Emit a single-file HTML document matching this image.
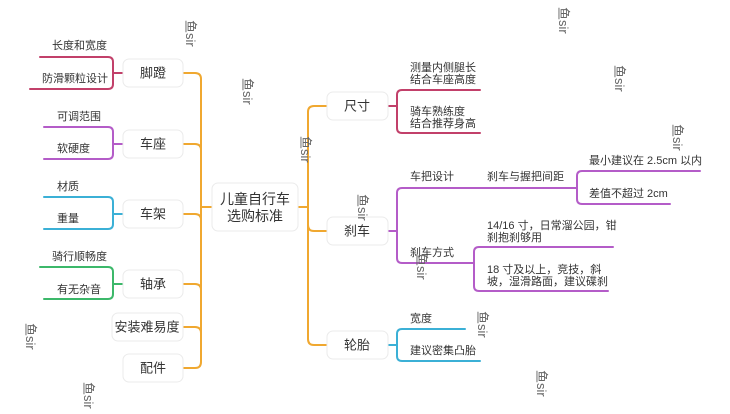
<!DOCTYPE html>
<html><head><meta charset="utf-8"><style>
html,body{margin:0;padding:0;background:#fff;}
svg{display:block;}
text{font-family:"Liberation Sans","Noto Sans CJK SC",sans-serif;fill:#333;}
.n{font-size:13px;text-anchor:middle;dominant-baseline:central;}
.l{font-size:11px;}
.w{font-size:13px;fill:#666;}
</style></head><body>
<svg width="730" height="414" viewBox="0 0 730 414" xmlns="http://www.w3.org/2000/svg">
<g fill="none" stroke-width="2" stroke-linecap="round">
<g stroke="#f0a830">
<path d="M183 73 H195 Q201 73 201 79 V362 Q201 368 195 368 H183"/>
<path d="M183 144 H195 Q201 144 201 150"/>
<path d="M183 214 H195 Q201 214 201 220"/>
<path d="M183 284 H195 Q201 284 201 290"/>
<path d="M183 327 H195 Q201 327 201 333"/>
<path d="M201 207 H212"/>
<path d="M298 207 H308"/>
<path d="M327 106 H314 Q308 106 308 112 V339 Q308 345 314 345 H327"/>
<path d="M327 231 H314 Q308 231 308 225"/>
</g>
<g stroke="#c2406a">
<path d="M123 73 H113"/>
<path d="M40 57 H108 Q113 57 113 62 V84 Q113 89 108 89 H30"/>
<path d="M388 106 H397"/>
<path d="M480 90 H402 Q397 90 397 95 V128 Q397 133 402 133 H480"/>
</g>
<g stroke="#b45cc8">
<path d="M123 144 H113"/>
<path d="M44 127 H108 Q113 127 113 132 V154 Q113 159 108 159 H44"/>
<path d="M388 231 H397"/>
<path d="M577 188 H402 Q397 188 397 193 V258 Q397 263 402 263 H474"/>
<path d="M700 171 H582 Q577 171 577 176 V199 Q577 204 582 204 H670"/>
<path d="M613 247 H479 Q474 247 474 252 V286 Q474 291 479 291 H608"/>
</g>
<g stroke="#3bb0d6">
<path d="M123 214 H113"/>
<path d="M44 197 H108 Q113 197 113 202 V224 Q113 229 108 229 H44"/>
<path d="M388 345 H397"/>
<path d="M465 329 H402 Q397 329 397 334 V356 Q397 361 402 361 H480"/>
</g>
<g stroke="#3cb86a">
<path d="M123 284 H113"/>
<path d="M40 267 H108 Q113 267 113 272 V294 Q113 299 108 299 H44"/>
</g>
</g>
<g fill="#fff" stroke="#ebebeb" stroke-width="1">
<rect x="123" y="59" width="60" height="28" rx="6"/>
<rect x="123" y="130" width="60" height="28" rx="6"/>
<rect x="123" y="200" width="60" height="28" rx="6"/>
<rect x="123" y="270" width="60" height="28" rx="6"/>
<rect x="112" y="313" width="71" height="28" rx="6"/>
<rect x="123" y="354" width="60" height="28" rx="6"/>
<rect x="212" y="183" width="86" height="48" rx="6"/>
<rect x="327" y="92" width="61" height="28" rx="6"/>
<rect x="327" y="217" width="61" height="28" rx="6"/>
<rect x="327" y="331" width="61" height="28" rx="6"/>
</g>
<text class="n" x="153" y="73">脚蹬</text>
<text class="n" x="153" y="144">车座</text>
<text class="n" x="153" y="214">车架</text>
<text class="n" x="153" y="284">轴承</text>
<text class="n" x="147" y="327">安装难易度</text>
<text class="n" x="153" y="368">配件</text>
<text class="n" x="255" y="199" style="font-size:14px">儿童自行车</text>
<text class="n" x="255" y="216" style="font-size:14px">选购标准</text>
<text class="n" x="357" y="106">尺寸</text>
<text class="n" x="357" y="231">刹车</text>
<text class="n" x="357" y="345">轮胎</text>
<g>
<text class="l" x="52" y="49">长度和宽度</text>
<text class="l" x="42" y="82">防滑颗粒设计</text>
<text class="l" x="57" y="120">可调范围</text>
<text class="l" x="57" y="152">软硬度</text>
<text class="l" x="57" y="190">材质</text>
<text class="l" x="57" y="222">重量</text>
<text class="l" x="52" y="260">骑行顺畅度</text>
<text class="l" x="57" y="293">有无杂音</text>
<text class="l" x="410" y="71">测量内侧腿长</text>
<text class="l" x="410" y="83">结合车座高度</text>
<text class="l" x="410" y="115">骑车熟练度</text>
<text class="l" x="410" y="127">结合推荐身高</text>
<text class="l" x="410" y="180">车把设计</text>
<text class="l" x="487" y="180">刹车与握把间距</text>
<text class="l" x="589" y="164">最小建议在 2.5cm 以内</text>
<text class="l" x="589" y="197">差值不超过 2cm</text>
<text class="l" x="410" y="256">刹车方式</text>
<text class="l" x="487" y="229">14/16 寸，日常溜公园，钳</text>
<text class="l" x="487" y="241">刹抱刹够用</text>
<text class="l" x="487" y="273">18 寸及以上，竞技，斜</text>
<text class="l" x="487" y="285">坡，湿滑路面，建议碟刹</text>
<text class="l" x="410" y="322">宽度</text>
<text class="l" x="410" y="354">建议密集凸胎</text>
</g>
<g>
<text class="w" transform="translate(186,20) rotate(90)">鱼sir</text>
<text class="w" transform="translate(243,78) rotate(90)">鱼sir</text>
<text class="w" transform="translate(301,136) rotate(90)">鱼sir</text>
<text class="w" transform="translate(559,7) rotate(90)">鱼sir</text>
<text class="w" transform="translate(615,65) rotate(90)">鱼sir</text>
<text class="w" transform="translate(673,124) rotate(90)">鱼sir</text>
<text class="w" transform="translate(358,194) rotate(90)">鱼sir</text>
<text class="w" transform="translate(417,253) rotate(90)">鱼sir</text>
<text class="w" transform="translate(478,311) rotate(90)">鱼sir</text>
<text class="w" transform="translate(537,370) rotate(90)">鱼sir</text>
<text class="w" transform="translate(26,323) rotate(90)">鱼sir</text>
<text class="w" transform="translate(84,382) rotate(90)">鱼sir</text>
</g>
</svg>
</body></html>
